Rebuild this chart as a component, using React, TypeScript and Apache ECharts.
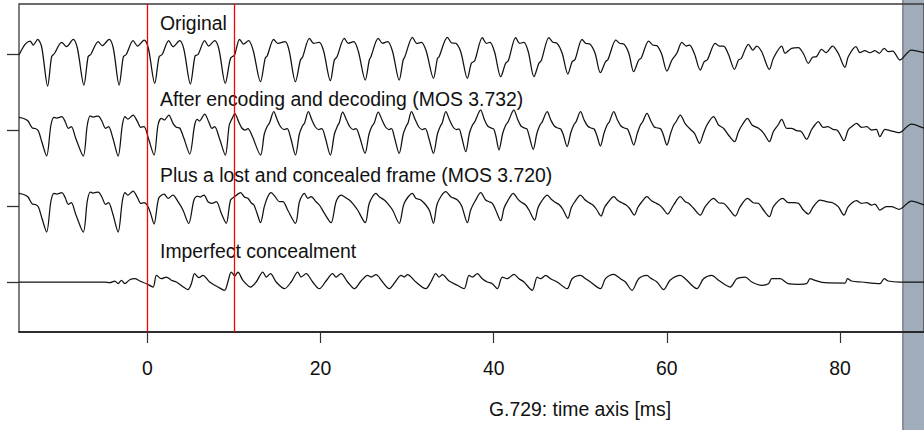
import React, { useEffect, useRef } from "react";
import * as echarts from "echarts";

// time axis [ms]
const timeMin = -14.84;
const timeMax = 89.71;
const timeTicks = [0, 20, 40, 60, 80];
const lostFrame = [0, 10];
const xTitle = "G.729: time axis [ms]";
const traceLabels = [
  "Original",
  "After encoding and decoding (MOS 3.732)",
  "Plus a lost and concealed frame (MOS 3.720)",
  "Imperfect concealment",
];

// [time ms, amplitude]
const original: number[][] = [
  [-14.84, -1], [-14.14, 9.7], [-13.56, 13], [-13.19, 9], [-12.68, 14.7], [-12.22, 7],
  [-11.53, -32], [-11.07, -2.7], [-10.75, 0.5], [-9.91, 11.7], [-9.34, 7.3], [-8.58, 14.7], [-8.1, 6],
  [-7.34, -31], [-6.85, -2.5], [-6.55, -0.5], [-5.69, 12.3], [-5.23, 8.3], [-4.43, 14.7], [-3.95, 6],
  [-3.27, -31], [-2.78, -2.7], [-2.45, -0.5], [-1.66, 13.3], [-1.15, 8], [-0.39, 14], [0.1, 6],
  [0.84, -29.3], [1.35, -2.7], [1.7, -0.5], [2.46, 13.3], [2.95, 7.3], [3.72, 13.3], [4.2, 5],
  [4.96, -30], [5.5, -2], [5.85, -0.5], [6.61, 13.3], [7.07, 8], [7.76, 13.3], [8.25, 5],
  [8.99, -29.3], [9.6, -4.3], [10.06, -1], [10.64, 14.7], [11.1, 10], [11.68, 13.3], [12.2, 4],
  [13.06, -27.7], [13.6, -4.3], [13.83, -2], [14.59, 14.7], [15.05, 10.7], [15.91, 12.3], [16.35, 4],
  [17.1, -27.7], [17.67, -6], [17.94, -2.7], [18.71, 15.7], [19.2, 10.7], [19.86, 11.7], [20.35, 3],
  [21.13, -26.7], [21.59, -6], [21.9, -2.7], [22.74, 15.7], [23.2, 10.7], [23.82, 12.3], [24.35, 3],
  [25.16, -26], [25.63, -6], [25.82, -2.7], [26.66, 15.7], [27.16, 10.7], [27.74, 12.3], [28.3, 3],
  [29.08, -26], [29.54, -6], [29.74, -2.7], [30.62, 16.7], [31.12, 10.7], [31.65, 11.7], [32.2, 3],
  [33.04, -24.3], [33.5, -4.3], [33.69, -2.7], [34.65, 16.7], [35.11, 11.3], [35.62, 10.7], [36.2, 2],
  [36.96, -24.3], [37.42, -9.3], [37.81, -6.7], [38.69, 16.3], [39.15, 10.7], [39.57, 11.7], [40.1, 2],
  [40.81, -22.7], [41.38, -9.3], [41.7, -6.5], [42.54, 16.3], [43.0, 10.7], [43.49, 11.7], [44.0, 2],
  [44.65, -22.7], [45.22, -9.3], [45.5, -6.5], [46.38, 16.3], [46.84, 11.7], [47.33, 10.7], [47.9, 1],
  [48.57, -20], [49.06, -7.7], [49.4, -5.5], [50.21, 14.7], [50.61, 10.7], [51.1, 10], [51.7, 1],
  [52.33, -18.7], [52.91, -7.7], [53.2, -5.5], [54.13, 14], [54.53, 10.7], [55.02, 10], [55.6, 1],
  [56.17, -17.7], [56.75, -6], [57.05, -4], [57.9, 13], [58.36, 9], [58.86, 8.3], [59.4, 0],
  [60.01, -17], [60.59, -6], [61.16, 0.7], [61.74, 11.7], [62.25, 8], [62.63, 9], [63.2, 0],
  [63.86, -16], [64.32, -7.7], [64.7, -5.5], [65.59, 10.7], [66.05, 8], [66.55, 8], [67.1, 0],
  [67.82, -15.3], [68.28, -6], [68.6, -4.5], [69.43, 9.7], [69.93, 4], [70.39, 8], [70.96, 2.3],
  [71.85, -15.3], [72.31, -4.3], [73.27, 8], [73.66, 0.7], [74.42, 5.7], [75.19, 6.3], [75.8, 0],
  [76.35, -9.3], [76.84, -3.3], [77.3, -2.5], [77.88, 4.7], [78.39, 1.3], [79.15, 8], [79.8, 0.7],
  [80.58, -13.3], [80.96, -2.7], [81.85, 7.3], [82.31, 1.3], [82.88, 3.3], [83.46, 1.3], [84.04, 3.3],
  [84.53, 0.7], [85.11, 5.7], [85.57, 2.3], [86.1, 3], [86.92, -6], [88.25, 4], [89.71, 1.3],
];

const coded: number[][] = [
  [-14.84, 12.7], [-14.3, 11.5], [-13.8, 9], [-13.3, 2], [-12.95, 1.5], [-12.6, -1], [-12.2, -12], [-11.65, -26],
  [-11.15, 5], [-10.8, 12.7], [-10.5, 12], [-9.91, 13.3], [-9.5, 8.3], [-9.15, 1.7], [-8.8, 3.3], [-8.3, -8], [-7.42, -26],
  [-6.95, 5], [-6.6, 14], [-6.3, 13], [-5.69, 14], [-5.23, 8.3], [-4.85, 1.7], [-4.5, 3.3], [-4.0, -8], [-3.39, -26],
  [-2.9, 5], [-2.6, 13.3], [-2.25, 11], [-1.66, 15], [-1.15, 8.3], [-0.78, 2.7], [-0.39, 3.3], [0.1, -8], [0.76, -25],
  [1.22, 5], [1.6, 11.7], [1.95, 10], [2.46, 15], [2.95, 6.7], [3.33, 2.7], [3.72, 2], [4.2, -8], [4.88, -24],
  [5.45, 5], [5.75, 10.7], [6.0, 9], [6.61, 16], [7.07, 8.3], [7.45, 1.7], [7.76, 3.3], [8.3, -8], [8.99, -25],
  [9.45, 5], [9.75, 11], [10.1, 16.5], [10.5, 9], [10.9, 2], [11.3, 0], [11.6, 1.5], [12.1, -6], [13.06, -25],
  [13.5, -4], [13.85, 4], [14.1, 7], [14.59, 18.3], [15.0, 10], [15.4, 3], [15.8, 0.5], [16.15, 1.5], [16.55, -8], [17.1, -25],
  [17.55, -4], [17.9, 4], [18.15, 7], [18.59, 18.3], [19.0, 10], [19.4, 3], [19.8, 0.5], [20.15, 1.5], [20.55, -8], [21.13, -25],
  [21.6, -4], [21.95, 4], [22.15, 7], [22.55, 18], [23.0, 10], [23.4, 3], [23.8, 0.5], [24.1, 1.5], [24.55, -8], [25.13, -23.3],
  [25.6, -4], [25.95, 4], [26.2, 7], [26.66, 18], [27.1, 10], [27.5, 3], [27.9, 0.5], [28.2, 1.5], [28.55, -8], [29.08, -23.3],
  [29.55, -4], [29.9, 4], [30.1, 7], [30.5, 18.3], [30.95, 10], [31.35, 3], [31.75, 0.5], [32.1, 1.5], [32.5, -8], [33.04, -23.3],
  [33.5, -4], [33.85, 4], [34.05, 7], [34.47, 18.3], [34.9, 10], [35.3, 3], [35.7, 0.5], [36.0, 1], [36.3, -7], [36.77, -21.7],
  [37.2, -3], [37.55, 5], [37.8, 8], [38.5, 20], [38.9, 11], [39.3, 4], [39.7, 2], [40.0, 1], [40.25, -6], [40.61, -20],
  [41.05, -3], [41.4, 5], [41.65, 8], [42.34, 20], [42.75, 11], [43.15, 4], [43.55, 2], [43.85, 1], [44.1, -6], [44.56, -19.3],
  [45.0, -3], [45.35, 5], [45.6, 8], [46.18, 18.3], [46.6, 10], [47.0, 4], [47.4, 2], [47.75, 1], [48.05, -5], [48.48, -16.7],
  [48.9, -3], [49.25, 5], [49.5, 8], [50.03, 18.3], [50.45, 10], [50.85, 4], [51.25, 2], [51.6, 1], [51.9, -5], [52.33, -16],
  [52.75, -3], [53.1, 5], [53.35, 8], [53.87, 18.3], [54.3, 10], [54.7, 4], [55.1, 2], [55.45, 1], [55.75, -5], [56.17, -15],
  [56.6, -3], [56.95, 5], [57.2, 8], [57.71, 16.7], [58.15, 9], [58.55, 3], [58.95, 2], [59.3, 1], [59.6, -5], [60.01, -15],
  [60.45, -3], [60.8, 5], [61.05, 8], [61.56, 15], [62.1, 6.7], [62.6, 1.7], [63.2, -3.3], [63.78, -13.3],
  [64.24, -3.3], [64.63, 5], [65.4, 13.3], [65.97, 5], [66.55, 1.7], [67.12, -5], [67.82, -11.7],
  [68.28, -1.7], [68.7, 5], [69.32, 11.7], [69.85, 5], [70.6, 1.7], [71.2, -3.3], [71.85, -11.7],
  [72.3, -1.7], [72.85, 5], [73.27, 10.7], [73.85, 1.7], [74.4, 1.7], [75.0, -0.7], [75.55, -1.7], [76.15, -9.3],
  [76.7, 0], [77.1, 5], [77.5, 8.3], [78.05, 2.7], [78.6, 3.3], [79.2, 0.7], [79.75, -0.7], [80.46, -10.7],
  [80.95, 0], [81.35, 3.3], [81.92, 6.7], [82.5, 2.7], [83.1, 3.3], [83.65, 0], [84.2, 0.7], [84.61, -6.7],
  [85.2, 0.7], [85.8, -0.7], [86.3, -1.7], [86.84, -2.7], [88.25, 6], [89.71, 1.7],
];

const concealed: number[][] = [
  [-14.84, 12.7], [-14.3, 11.5], [-13.8, 9], [-13.3, 2], [-12.95, 1.5], [-12.6, -1], [-12.2, -12], [-11.65, -26],
  [-11.15, 5], [-10.8, 12.7], [-10.5, 12], [-9.91, 13.3], [-9.5, 8.3], [-9.15, 1.7], [-8.8, 3.3], [-8.3, -8], [-7.42, -26],
  [-6.95, 5], [-6.6, 14], [-6.3, 13], [-5.69, 14], [-5.23, 8.3], [-4.85, 1.7], [-4.5, 3.3], [-4.0, -8], [-3.39, -26],
  [-2.9, 5], [-2.6, 13.3], [-2.25, 11], [-1.66, 15], [-1.15, 8.3], [-0.78, 2.7], [-0.39, 3.3],
  [0.0, 0.5], [0.35, -7], [0.76, -18],
  [1.3, 7.7], [1.92, 12], [2.38, 7.7], [2.95, 11], [3.53, 4.3], [4.1, -4], [4.76, -17.5],
  [5.37, 6], [5.76, 10], [6.1, 9], [6.53, 11], [6.99, 4.3], [7.45, 2.7], [7.95, 4.3], [8.53, -7.3], [9.1, -17.3],
  [9.6, 6], [10.06, 9.3], [10.76, 13.3], [11.2, 9], [11.6, 7.7], [12.0, 3], [12.3, 1], [12.65, -7], [13.06, -16.7],
  [13.5, -0.7], [13.9, 9.3], [14.29, 13.3], [14.75, 9.3], [15.25, 4.3], [15.65, 4.3], [16.2, -4], [17.1, -17.3],
  [17.56, 4.3], [18.13, 12.7], [18.52, 7.7], [18.9, 9.3], [19.48, 4.3], [19.86, 1], [20.44, -7.3], [21.21, -16.7],
  [21.79, 4.3], [22.36, 11], [22.74, 9.3], [23.32, 6], [23.7, 2.7], [24.28, -4], [25.16, -16.7],
  [25.63, 2.7], [26.4, 12.7], [26.78, 9.3], [27.36, 6], [27.74, 2.7], [28.32, -4], [29.08, -17.3],
  [29.66, 2.7], [30.62, 12.7], [31.0, 7.7], [31.58, 6], [32.16, 1], [32.6, -5], [33.04, -17.3],
  [33.5, 2.7], [34.47, 14.3], [35.04, 9.3], [35.81, 6], [36.3, 0], [36.96, -16.7],
  [37.34, -4], [37.92, 6], [38.5, 13.3], [39.07, 6], [39.46, 4.3], [39.84, 2.7], [40.23, -4], [40.81, -14.7],
  [41.19, -2.3], [41.57, 4.3], [42.26, 12.7], [42.72, 7.7], [43.11, 4.3], [43.68, 1], [44.07, -4], [44.73, -14],
  [45.1, -2.3], [45.5, 4.3], [46.18, 11], [46.65, 6.7], [47.05, 4], [47.6, 1], [48.0, -3.5], [48.57, -12.3],
  [48.95, -2], [49.35, 4], [50.03, 11], [50.5, 6.5], [50.9, 4], [51.45, 1], [51.85, -3], [52.4, -10],
  [52.8, -1.5], [53.2, 3.5], [53.87, 9.3], [54.35, 5.5], [54.75, 3.5], [55.3, 1], [55.7, -2.5], [56.25, -9],
  [56.65, -1.5], [57.05, 3.5], [57.71, 9.3], [58.2, 5.5], [58.6, 3.5], [59.15, 1], [59.55, -2.5], [60.09, -8],
  [60.78, 1], [61.56, 9.3], [62.13, 4.3], [62.52, 2.7], [63.09, -2.3], [63.86, -9],
  [64.43, -0.7], [65.4, 7.7], [65.97, 3.3], [66.55, 2.7], [67.12, -2.3], [67.9, -10],
  [68.47, -0.7], [69.32, 7.7], [69.99, 3.3], [70.57, 2.7], [71.16, -4], [71.85, -10.7],
  [72.31, -0.7], [73.38, 7.7], [74.04, 3.3], [74.61, 3.3], [75.19, 2.7], [75.77, -4], [76.35, -8],
  [76.92, -0.7], [77.7, 6], [78.46, 4.3], [79.15, 3.3], [79.8, -0.7], [80.46, -9],
  [80.96, -0.7], [81.92, 5.3], [82.49, 2.7], [83.07, 3.3], [83.65, 1], [84.04, 2], [84.61, -4],
  [85.34, -0.7], [85.92, -0.7], [86.84, -3.3], [88.25, 5], [89.71, 1],
];

const concealError: number[][] = [
  [-14.84, 0], [-4.91, 0], [-4.35, -0.7], [-3.77, 1], [-3.39, -1.7], [-3.0, 1.7], [-2.62, -1.7], [-2.04, 2.3],
  [-1.46, 3.3], [-0.89, 1], [-0.12, -1.7], [0.65, -5],
  [1.04, 6.7], [1.61, 3.3], [2.19, 5], [2.77, 1.7], [3.34, 0], [4.03, -4.3], [4.68, -7.7], [5.07, -1.7],
  [5.45, 8.3], [5.95, 4.3], [6.41, 6.7], [7.18, 0], [8.14, -5], [8.91, -8.3], [9.29, 0], [9.68, 10],
  [10.1, 6], [10.45, 10], [11.02, 1.7], [11.91, -5], [12.56, 0], [13.33, 10], [13.72, 5], [14.21, 8.3],
  [14.87, 0], [15.83, -6.7], [16.6, 0], [17.36, 10], [17.75, 5], [18.33, 8.3], [19.09, 0], [19.86, -6.7],
  [20.63, 1], [21.4, 8.3], [21.79, 5], [22.36, 8.3], [23.12, 0], [23.9, -6.7], [24.67, 1], [25.43, 6.7],
  [25.82, 5], [26.4, 7.3], [27.16, 0], [27.93, -6.7], [28.7, 1], [29.28, 6.7], [29.66, 5], [30.04, 7.3],
  [31.01, 0], [32.16, -6.7], [32.74, 0], [33.31, 8.3], [33.69, 5], [34.07, 7.3], [34.85, 1], [35.8, -3.3],
  [36.58, -6.7], [37.15, 6.7], [37.53, 5], [38.11, 8.3], [38.69, 3.3], [39.26, 0], [39.84, -1.7], [40.42, -6.7],
  [40.99, 5], [41.57, 3.3], [42.34, 7.7], [42.92, 3.3], [43.49, 0], [44.45, -8.3], [45.03, 5], [45.42, 3.3],
  [46.0, 6.7], [46.57, 3.3], [47.33, 0], [48.48, -6.7], [49.06, 3.3], [50.03, 6.7], [50.61, 3.3], [51.18, 0],
  [52.33, -6.7], [52.91, 3.3], [53.87, 7.7], [54.64, 3.3], [55.22, 0], [55.98, -8.3], [56.75, 3.3], [57.71, 6.7],
  [58.1, 4], [58.86, 0], [59.63, -7.7], [60.4, 2], [61.56, 6.7], [62.13, 3.3], [63.47, -6.7], [64.24, 3.3],
  [65.2, 6.7], [65.97, 1.7], [67.32, -5], [68.08, 3.3], [69.05, 5], [69.81, 0], [70.96, -3.3], [71.74, -1.7],
  [72.12, 3.3], [73.08, 3.3], [74.04, -1.7], [75.19, -2.3], [76.15, -1.7], [76.54, 3.3], [77.12, 1.7], [78.27, -0.7],
  [80.58, -1], [80.88, 3.3], [81.34, 1], [82.49, 0], [84.61, -1.7], [85.11, 3.3], [85.57, 1], [86.92, 0], [89.71, 0],
];

const traces = [original, coded, concealed, concealError];

const FONT = "'Liberation Sans', Arial, Helvetica, sans-serif";
const PLOT_LEFT = 19;
const PLOT_TOP = 4;
const PLOT_W = 907;
const PLOT_H = 328;
const BASELINES = [54, 130, 206, 282];
const HALF = 38;
const LABEL_Y = [24, 100, 176, 252];

export default function App() {
  const ref = useRef<HTMLDivElement>(null);

  useEffect(() => {
    if (!ref.current) return;
    const chart = echarts.init(ref.current, undefined, { renderer: "svg" });

    const grids: any[] = [
      {
        left: PLOT_LEFT,
        top: PLOT_TOP,
        width: PLOT_W,
        height: PLOT_H,
        show: true,
        borderColor: "#3a3a3a",
        borderWidth: 1.3,
        backgroundColor: "transparent",
      },
    ];
    const xAxes: any[] = [
      {
        type: "value",
        gridIndex: 0,
        min: timeMin,
        max: timeMax,
        splitLine: { show: false },
        axisLine: { show: true, onZero: false, lineStyle: { color: "#1a1a1a", width: 1.6 } },
        axisTick: {
          show: true,
          inside: false,
          length: 11,
          customValues: timeTicks,
          lineStyle: { color: "#333", width: 1.2 },
        },
        axisLabel: {
          show: true,
          customValues: timeTicks,
          margin: 26,
          fontSize: 19.4,
          fontFamily: FONT,
          color: "#111",
        },
      },
    ];
    const yAxes: any[] = [
      {
        type: "value",
        gridIndex: 0,
        min: 0,
        max: 1,
        show: false,
      },
    ];
    const series: any[] = [
      {
        type: "line",
        xAxisIndex: 0,
        yAxisIndex: 0,
        data: [],
        silent: true,
        markLine: {
          silent: true,
          symbol: "none",
          label: { show: false },
          lineStyle: { color: "#ff0000", width: 1.3, type: "solid" },
          data: lostFrame.map((t) => ({ xAxis: t })),
        },
      },
    ];

    traces.forEach((data, i) => {
      const gi = i + 1;
      grids.push({
        left: PLOT_LEFT,
        top: BASELINES[i] - HALF,
        width: PLOT_W,
        height: HALF * 2,
        show: false,
      });
      xAxes.push({
        type: "value",
        gridIndex: gi,
        min: timeMin,
        max: timeMax,
        show: false,
        axisLine: { onZero: false },
      });
      yAxes.push({
        type: "value",
        gridIndex: gi,
        position: "left",
        min: -HALF,
        max: HALF,
        axisLine: { show: false, onZero: false },
        splitLine: { show: false },
        axisLabel: { show: false },
        axisTick: {
          show: true,
          inside: false,
          length: 12,
          customValues: [0],
          lineStyle: { color: "#333", width: 1.3 },
        },
      });
      series.push({
        type: "line",
        xAxisIndex: gi,
        yAxisIndex: gi,
        data,
        smooth: 0.3,
        showSymbol: false,
        silent: true,
        clip: false,
        lineStyle: { color: "#111", width: 1.25 },
        z: 3,
      });
    });

    const graphic: any[] = [
      {
        type: "rect",
        z: -10,
        silent: true,
        shape: { x: 902, y: 0, width: 22, height: 430 },
        style: { fill: "#a1acba" },
      },
      {
        type: "rect",
        z: -9,
        silent: true,
        shape: { x: 902, y: 0, width: 2, height: 430 },
        style: { fill: "#8a9099" },
      },
      ...traceLabels.map((txt, i) => ({
        type: "text",
        left: 160,
        top: LABEL_Y[i] - 11,
        silent: true,
        style: { text: txt, fontSize: 19.4, fontFamily: FONT, fill: "#111" },
      })),
      {
        type: "text",
        x: 580,
        y: 409,
        silent: true,
        style: {
          text: xTitle,
          fontSize: 19.4,
          fontFamily: FONT,
          fill: "#111",
          align: "center",
          verticalAlign: "middle",
        },
      },
    ];

    chart.setOption({
      animation: false,
      backgroundColor: "#ffffff",
      grid: grids,
      xAxis: xAxes,
      yAxis: yAxes,
      series,
      graphic,
    });

    return () => chart.dispose();
  }, []);

  return (
    <div
      ref={ref}
      style={{ position: "fixed", left: 0, top: 0, width: 924, height: 430 }}
    />
  );
}
